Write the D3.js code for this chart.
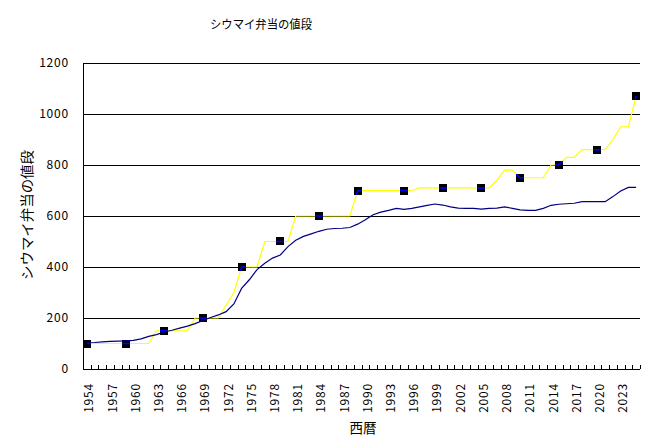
<!DOCTYPE html>
<html><head><meta charset="utf-8">
<script src="https://cdn.jsdelivr.net/npm/d3@7"></script>
<style>
html,body{margin:0;padding:0;background:#fff;}
svg text{font-family:"Noto Sans CJK JP","Noto Sans",sans-serif;fill:#000;}
</style></head><body>
<svg id="c" width="651" height="446"></svg>
<script>
// categories
const years = d3.range(1954, 2026);
const labelYears = [1954,1957,1960,1963,1966,1969,1972,1975,1978,1981,1984,1987,1990,1993,1996,1999,2002,2005,2008,2011,2014,2017,2020,2023];
const yTicks = [0,200,400,600,800,1000,1200];
// nominal price (yellow)
const price = [100,100,100,100,100,100,100,100,100,
  150,150,150,150,150,
  200,200,200,200,
  250,300,
  400,400,400,
  500,500,500,500,
  600,600,600,600,600,600,600,600,
  700,700,700,700,700,700,700,700,
  710,710,710,710,710,710,710,710,710,710,
  740,780,780,
  750,750,750,750,
  800,800,
  830,830,
  860,860,860,860,
  900,950,950,1070];
// adjusted value (navy)
const adjusted = [103,104,106,108,109,110,112,118,128,135,
  145,152,160,168,178,190,202,212,225,255,
  316,350,390,415,435,447,480,505,520,530,
  540,548,551,552,555,568,585,605,615,622,
  630,626,630,636,642,647,643,636,631,630,
  630,627,630,631,636,630,624,622,622,630,
  642,646,648,650,656,656,656,656,676,698,
  712,712];
// marker points
const markerYears = [1954,1959,1964,1969,1974,1979,1984,1989,1995,2000,2005,2010,2015,2020,2025];
const markerValues = [100,100,150,200,400,500,600,700,700,710,710,750,800,860,1070];

const svg = d3.select("#c");
const L = 83, R = 640, T = 63, B = 369;
const x = d3.scaleBand().domain(years).range([L, R]).padding(0);
const cx = yr => x(yr) + x.bandwidth()/2;
const y = d3.scaleLinear().domain([0,1200]).range([B, T]);

// gridlines
svg.append("g").selectAll("line").data(yTicks.filter(v=>v>0)).join("line")
  .attr("x1", L).attr("x2", R)
  .attr("y1", d=>Math.round(y(d))+0.5).attr("y2", d=>Math.round(y(d))+0.5)
  .attr("stroke","#000").attr("stroke-width",1).attr("shape-rendering","crispEdges");

// y axis labels
const yAxis = d3.axisLeft(y).tickValues(yTicks).tickFormat(d3.format("d")).tickSize(0).tickPadding(14);
const ya = svg.append("g").attr("transform",`translate(${L},0)`).call(yAxis);
ya.select(".domain").remove();
ya.selectAll("text").attr("font-size","12px").style("letter-spacing","0.8px")
  .attr("font-family",'"Noto Sans CJK JP",sans-serif');

// x axis
const xAxis = d3.axisBottom(x).tickValues(labelYears).tickSize(0).tickPadding(0);
const xa = svg.append("g").attr("transform",`translate(0,${B})`).call(xAxis);
xa.select(".domain").remove();
xa.selectAll("text").attr("font-size","12px").style("letter-spacing","0.8px")
  .attr("font-family",'"Noto Sans CJK JP",sans-serif')
  .attr("text-anchor","end").attr("dominant-baseline","central")
  .attr("transform","translate(1,14) rotate(-90)").attr("x",0).attr("y",0).attr("dy",null);

// tick marks between categories
const bounds = years.slice(1).map(yr => x(yr)).concat([R]);
svg.append("g").selectAll("line").data(bounds).join("line")
  .attr("x1", d=>Math.round(d)+0.5).attr("x2", d=>Math.round(d)+0.5)
  .attr("y1", B-4).attr("y2", B)
  .attr("stroke","#000").attr("shape-rendering","crispEdges");

// axis lines
svg.append("line").attr("x1",L+0.5).attr("x2",L+0.5).attr("y1",T).attr("y2",B+0.5)
  .attr("stroke","#000").attr("shape-rendering","crispEdges");
svg.append("line").attr("x1",L).attr("x2",R).attr("y1",B+0.5).attr("y2",B+0.5)
  .attr("stroke","#000").attr("shape-rendering","crispEdges");

// yellow line
const line = d3.line().x((d,i)=>cx(years[i])).y(d=>y(d));
svg.append("path").attr("d", line(price)).attr("fill","none")
  .attr("stroke","#FFFF00").attr("stroke-width",1.2);

// markers
const ms = 8;
const mk = markerYears.map((yr,i)=>({yr, v: markerValues[i]}));
svg.append("g").selectAll("rect").data(mk).join("rect")
  .attr("x", d=>Math.round(cx(d.yr)-ms/2)).attr("y", d=>Math.round(y(d.v)-ms/2))
  .attr("width", ms).attr("height", ms).attr("fill","#000");
const clip = svg.append("defs").append("clipPath").attr("id","mclip");
clip.selectAll("rect").data(mk).join("rect")
  .attr("x", d=>Math.round(cx(d.yr)-ms/2)).attr("y", d=>Math.round(y(d.v)-ms/2))
  .attr("width", ms).attr("height", ms);
svg.append("path").attr("d", line(price)).attr("fill","none")
  .attr("stroke","#0000FF").attr("stroke-width",1.5).attr("clip-path","url(#mclip)");

// navy line
svg.append("path").attr("d", line(adjusted)).attr("fill","none")
  .attr("stroke","#000080").attr("stroke-width",1.2);

// titles
svg.append("text").attr("x",261).attr("y",23).attr("text-anchor","middle")
  .attr("dominant-baseline","central").attr("font-size","12px")
  .attr("textLength",102).attr("lengthAdjust","spacingAndGlyphs")
  .text("シウマイ弁当の値段");
svg.append("text").attr("transform","translate(26,215) rotate(-90)")
  .attr("text-anchor","middle").attr("dominant-baseline","central").attr("font-size","13.5px")
  .attr("textLength",130).attr("lengthAdjust","spacingAndGlyphs")
  .text("シウマイ弁当の値段");
svg.append("text").attr("x",363).attr("y",427).attr("text-anchor","middle")
  .attr("dominant-baseline","central").attr("font-size","13.5px")
  .text("西暦");
</script>
</body></html>
